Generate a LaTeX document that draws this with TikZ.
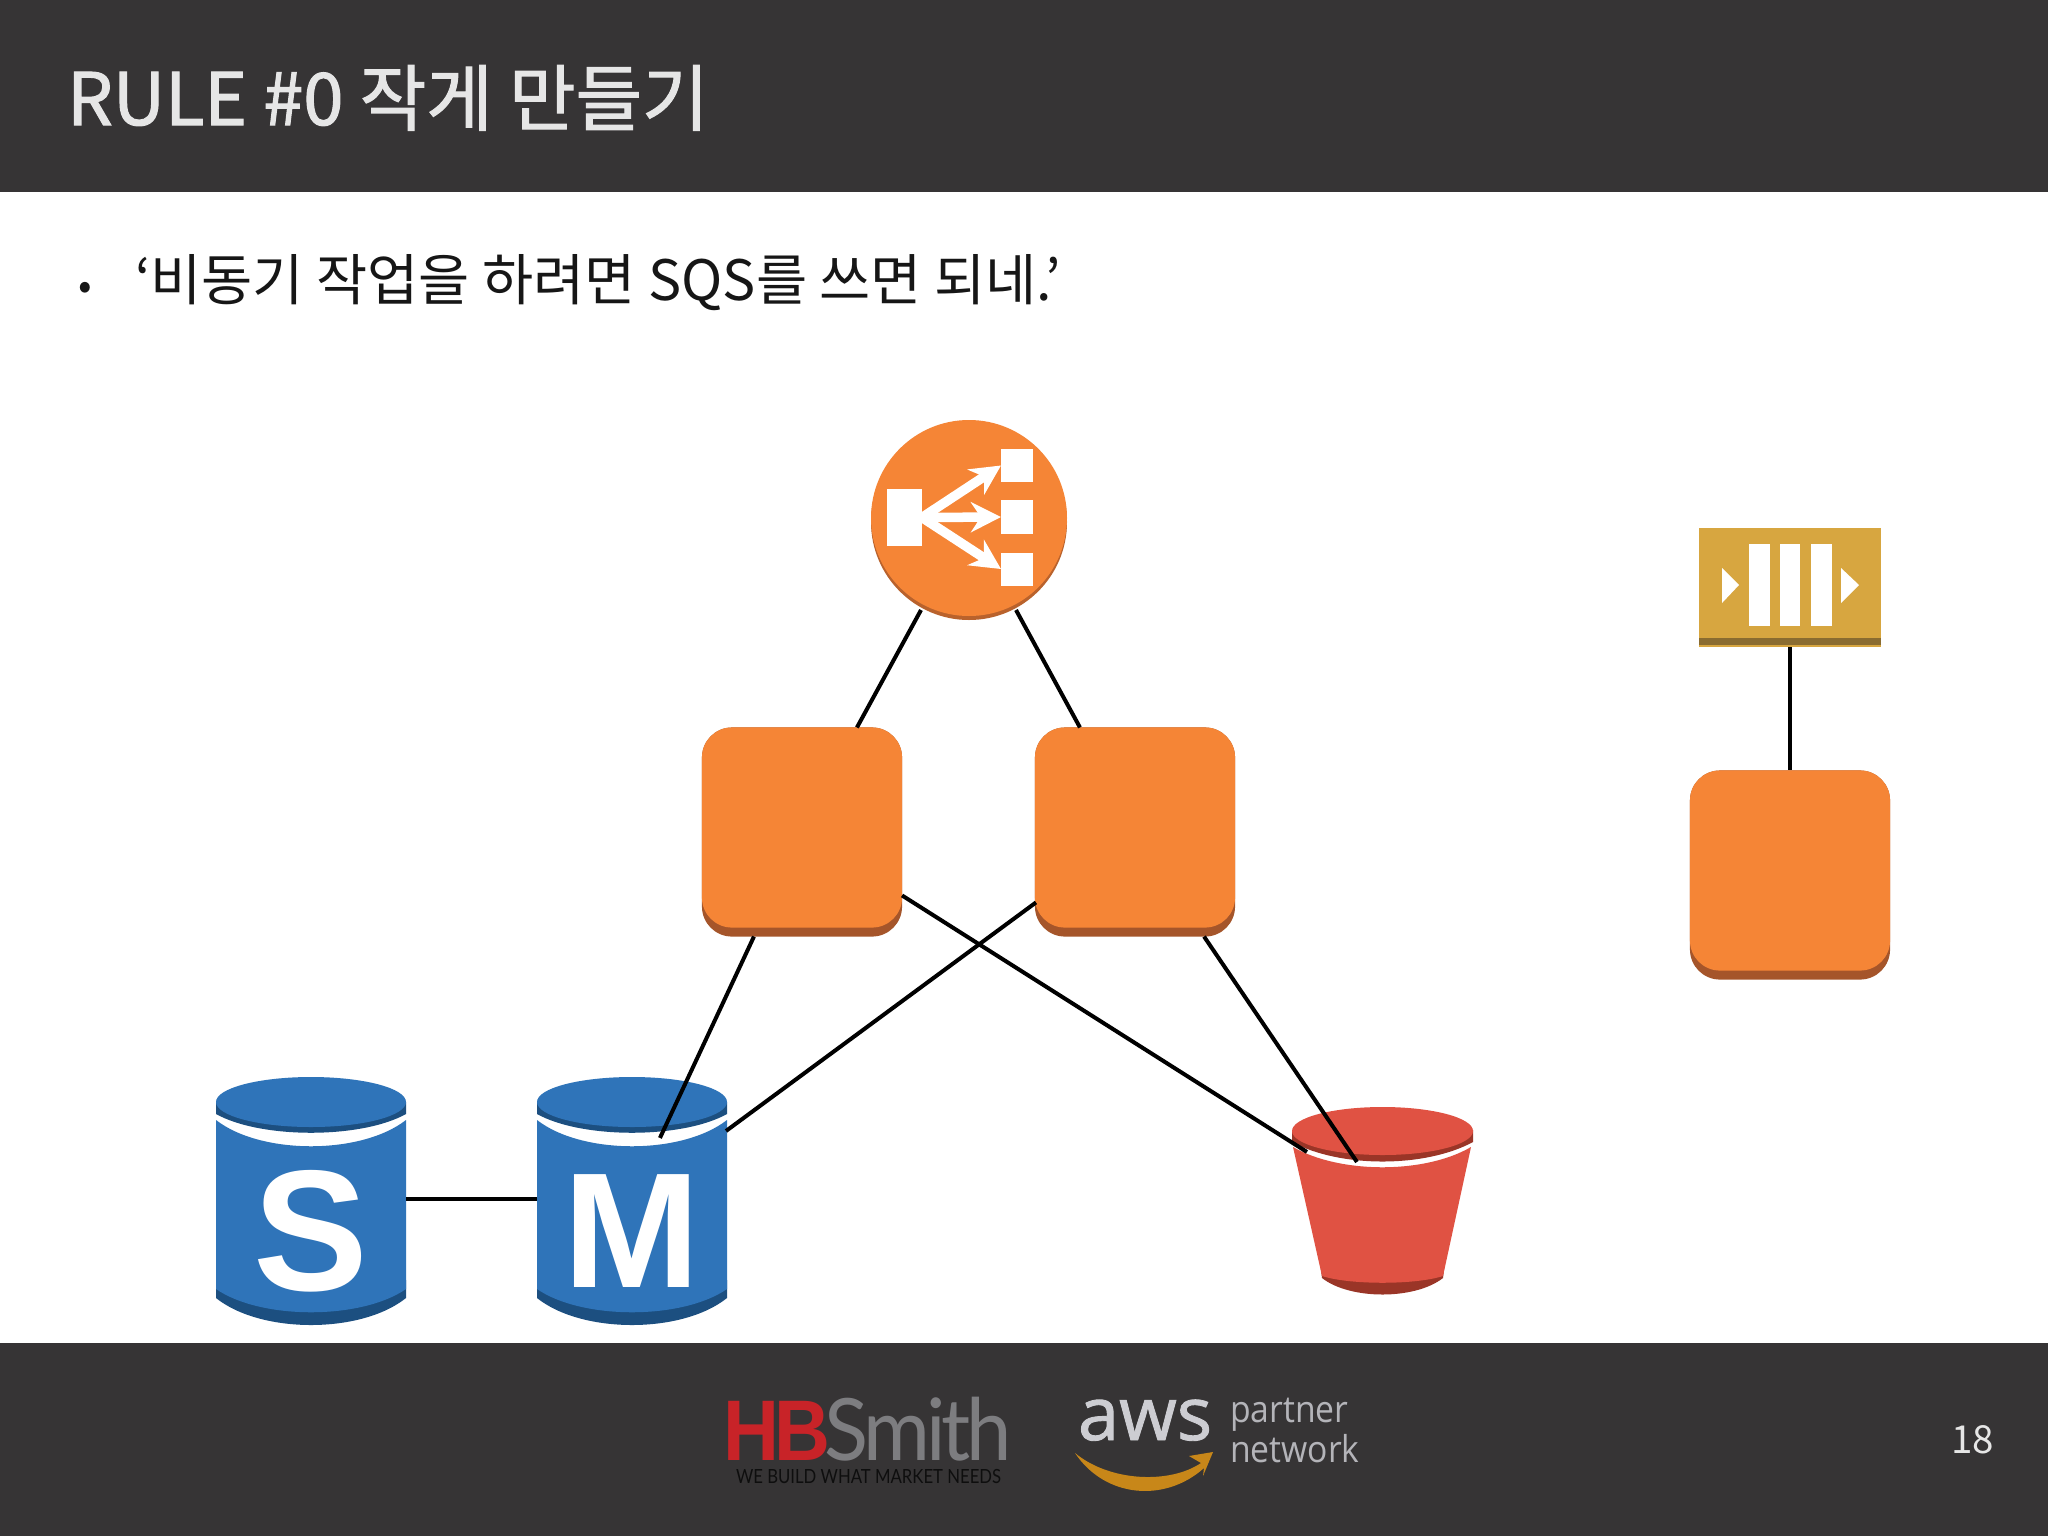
\documentclass[tikz,border=0pt]{standalone}
\usepackage{fontspec}
\usetikzlibrary{calc,arrows.meta}
\setmainfont{Noto Sans CJK KR}
\newfontfamily\lib{Liberation Sans}
\newfontfamily\lat{Lato}
\newfontfamily\ops{Open Sans}
\newfontfamily\opsb[FakeBold=1.2]{Open Sans}
\newfontfamily\ttlf[FakeBold=1.5]{Noto Sans CJK KR}
\newcommand\pxf[1]{\fontsize{\fpeval{#1*0.28453}}{\fpeval{#1*0.3}}\selectfont}
\definecolor{bar}{HTML}{363435}
\definecolor{orng}{HTML}{F58536}
\definecolor{orngd}{HTML}{A5552A}
\definecolor{orngm}{HTML}{B9622C}
\definecolor{blu}{HTML}{2F74B9}
\definecolor{blud}{HTML}{1C4F80}
\definecolor{rd}{HTML}{E05243}
\definecolor{rdd}{HTML}{9A3527}
\definecolor{gld}{HTML}{D7A640}
\definecolor{gldd}{HTML}{8A6C30}
\definecolor{ttl}{HTML}{E6E6E6}
\definecolor{hbred}{HTML}{C82328}
\definecolor{hbgray}{HTML}{7D7D80}
\definecolor{awsg}{HTML}{CDCDD2}
\definecolor{awsl}{HTML}{B4B4B9}
\definecolor{smile}{HTML}{C88719}
\definecolor{tagc}{HTML}{0E0E0E}
\definecolor{bodyc}{HTML}{161616}
\tikzset{
  txt/.style={inner sep=0pt,outer sep=0pt,anchor=base west},
  link/.style={draw=black,line width=.04cm},
  ecnode/.style={inner sep=0pt,outer sep=0pt,minimum width=2cm,minimum height=2.09cm,fill=orngd,rounded corners=.3cm},
  ectop/.style={fill=orng,rounded corners=.3cm},
  wh/.style={fill=white},
  lbarrow/.style={draw=white,line width=.095cm,-{Stealth[length=.3cm,width=.3cm]},shorten >=0pt},
}
\newcommand\ectwo[3]{%
  \node[ecnode] (#1) at (#2,#3) {};
  \path[ectop] (#1.north west) rectangle ($(#1.south east)+(0,-9)$);
}
\newcommand\cyl[4]{% name, left x, letter, font size
  \node[inner sep=0pt,outer sep=0pt,minimum width=1.9cm,minimum height=2.48cm] (#1) at (#2+95,1201) {};
  \begin{scope}[xshift=#2*0.01cm]
    \fill[blud] (0,1280) -- (0,1298) .. controls (45,1334) and (145,1334) .. (190,1298) -- (190,1280) -- cycle;
    \fill[blu] (0,1120) .. controls (45,1155) and (145,1155) .. (190,1120) -- (190,1289) .. controls (145,1320) and (45,1320) .. (0,1289) -- cycle;
    \fill[blud] (0,1102) -- (0,1114) .. controls (45,1139) and (145,1139) .. (190,1114) -- (190,1102) -- cycle;
    \fill[blu] (95,1102) ellipse [x radius=95,y radius=25];
  \end{scope}
  \node[inner sep=0pt,text=white] (#1l) at (#2+95,1231) {\lib\bfseries\pxf{#4}#3};
}
\begin{document}
\begin{tikzpicture}[x=0.01cm,y=-0.01cm]
\useasboundingbox (0,0) rectangle (2048,1536);
\fill[white] (0,0) rectangle (2048,1536);
\fill[bar] (0,0) rectangle (2048,192);
\fill[bar] (0,1343) rectangle (2048,1536);

\node[txt,text=ttl] (title) at (67,125) {\ttlf\pxf{72.3}RULE \#0 작게 만들기};
\node[txt,text=bodyc] (bul) at (78,299) {\pxf{40}•};
\node[txt,text=bodyc] (body) at (135,300) {\pxf{55.6}‘비동기 작업을 하려면 SQS를 쓰면 되네.’};

% load balancer
\fill[orngm] (969,522) circle [radius=98];
\fill[orng] (969,518) circle [radius=98];
\node[inner sep=0pt,outer sep=0pt,minimum width=2cm,minimum height=2.04cm] (lb) at (969,520) {};
\node[inner sep=0pt,outer sep=0pt,minimum width=.35cm,minimum height=.57cm,wh] (lbs) at (904.5,517.5) {};
\node[inner sep=0pt,outer sep=0pt,minimum width=.32cm,minimum height=.33cm,wh] (lb1) at (1017,465.5) {};
\node[inner sep=0pt,outer sep=0pt,minimum width=.32cm,minimum height=.33cm,wh] (lb2) at (1017,517) {};
\node[inner sep=0pt,outer sep=0pt,minimum width=.32cm,minimum height=.33cm,wh] (lb3) at (1017,569) {};
\draw[lbarrow] (lbs.east) -- (lb1.west);
\draw[lbarrow] (lbs.east) -- (lb2.west);
\draw[lbarrow] (lbs.east) -- (lb3.west);

\ectwo{eca}{802}{832}
\ectwo{ecb}{1135}{832}
\ectwo{ecc}{1790}{875}

% sqs
\node[inner sep=0pt,outer sep=0pt,minimum width=1.82cm,minimum height=1.19cm,fill=gld] (sqs) at (1790,587.5) {};
\fill[gldd] ($(sqs.south west)+(0,-9)$) rectangle ($(sqs.south east)+(0,-2)$);
\fill[white] (1749,544) rectangle (1770,626);
\fill[white] (1780,544) rectangle (1800,626);
\fill[white] (1811,544) rectangle (1832,626);
\fill[white] (1722,568) -- (1739,585) -- (1722,603) -- cycle;
\fill[white] (1841,568) -- (1859,585) -- (1841,603) -- cycle;

% databases
\cyl{dbs}{216}{S}{172}
\cyl{dbm}{537}{M}{164}

% bucket
\node[inner sep=0pt,outer sep=0pt,minimum width=1.81cm,minimum height=1.86cm] (bk) at (1382.5,1200) {};
\fill[rdd] (1320,1262) -- (1322,1278) .. controls (1350,1300) and (1415,1300) .. (1443,1278) -- (1445,1262) -- cycle;
\fill[rd] (1293,1147) .. controls (1340,1174) and (1425,1174) .. (1471,1147) -- (1443,1276) .. controls (1415,1285) and (1350,1285) .. (1322,1276) -- cycle;
\fill[rdd] (1292,1130) -- (1292,1142) .. controls (1340,1168) and (1425,1168) .. (1473,1142) -- (1473,1130) -- cycle;
\fill[rd] (1382.5,1131) ellipse [x radius=90.5,y radius=24];

% connectors
\draw[link] ($(lb.center)+(-48,90)$) -- ($(eca.north west)+(155,0)$);
\draw[link] ($(lb.center)+(47,90)$) -- ($(ecb.north west)+(45,0)$);
\draw[link] ($(eca.south west)+(52,0)$) -- ($(dbm.north west)+(123,61)$);
\draw[link] ($(ecb.north west)+(1,175)$) -- ($(dbm.north east)+(-1,54)$);
\draw[link] ($(eca.north east)+(0,168)$) -- ($(bk.north west)+(15,45)$);
\draw[link] ($(ecb.south east)+(-31,0)$) -- ($(bk.north west)+(65,55)$);
\draw[link] (dbs.east |- 0,1199) -- (dbm.west |- 0,1199);
\draw[link] (sqs.south) -- (ecc.north);

% footer logos
\node[txt,text=hbred,xscale=.9] (hb) at (723,1460) {\lib\bfseries\pxf{86}\addfontfeatures{LetterSpace=-6}HB};
\node[txt,text=hbgray,xscale=.945] (sm) at (824,1460) {\lat\pxf{86}\addfontfeatures{LetterSpace=-5}Smith};
\node[txt,text=tagc,xscale=.857] (tag) at (736,1483) {\lat\pxf{19.5}WE BUILD WHAT MARKET NEEDS};
\node[txt,text=awsg] (aws) at (1078,1440) {\opsb\pxf{74}aws};
\fill[smile] (1075,1453) .. controls (1110,1482) and (1170,1484) .. (1201,1463) -- (1189,1456) -- (1213,1452) -- (1203,1476) -- (1204,1468) .. controls (1165,1503) and (1105,1498) .. (1075,1453) -- cycle;
\node[txt,text=awsl,xscale=.91] (pt) at (1230,1422) {\ops\pxf{37}partner};
\node[txt,text=awsl,xscale=.91] (nw) at (1230,1462) {\ops\pxf{37}network};
\node[txt,text=ttl] (pg) at (1951,1453) {\pxf{38.5}18};
\end{tikzpicture}
\end{document}
